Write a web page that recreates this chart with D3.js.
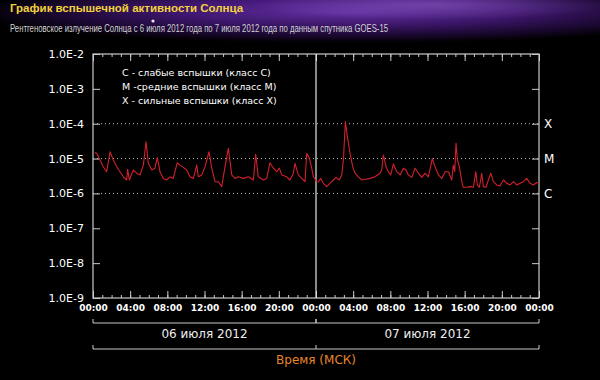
<!DOCTYPE html>
<html>
<head>
<meta charset="utf-8">
<script src="https://cdn.jsdelivr.net/npm/d3@7"></script>
<style>
    body { margin: 0; background: #000; }
    svg { display: block; }
</style>
</head>
<body>
<svg id="chart"></svg>
<script>
// GOES-15 X-ray flux, 6-7 July 2012 (hours from 00:00 on 06.07, W/m2)
const hours = [0.2, 0.4, 0.75, 1.1, 1.47, 1.83, 2.19, 2.55, 2.9, 3.26, 3.62, 3.73, 3.91, 4.34, 4.7, 5.06, 5.42, 5.71, 5.95,
    6.32, 6.67, 6.92, 7.21, 7.57, 7.93, 8.29, 8.64, 9.07, 9.36, 9.72, 10.08, 10.44, 10.8, 11.16, 11.34, 11.7, 12.06, 12.49,
    12.78, 13.13, 13.49, 13.85, 14.21, 14.57, 14.93, 15.29, 15.64, 16.18, 16.72, 17.26, 17.51, 17.79, 18.33, 18.7, 19.05,
    19.41, 19.77, 20.05, 20.31, 20.85, 21.2, 21.56, 21.74, 22.1, 22.47, 22.82, 23.0, 23.28, 23.54, 23.72, 24.08, 24.26,
    24.51, 24.79, 25.15, 25.51, 25.87, 26.16, 26.51, 26.77, 26.95, 27.16, 27.38, 27.66, 27.95, 28.2, 28.56, 28.92, 29.28,
    29.82, 30.35, 30.89, 31.07, 31.25, 31.54, 31.79, 32.04, 32.33, 32.69, 33.05, 33.4, 33.69, 33.94, 34.31, 34.66, 35.02,
    35.38, 35.74, 36.09, 36.52, 36.81, 37.17, 37.53, 37.89, 38.25, 38.61, 38.78, 38.93, 39.07, 39.22, 39.43, 39.69, 39.86,
    40.22, 40.58, 40.94, 41.2, 41.37, 41.58, 41.84, 42.01, 42.3, 42.55, 42.81, 43.09, 43.45, 43.81, 44.17, 44.53, 44.89,
    45.24, 45.61, 45.96, 46.32, 46.68, 47.04, 47.39, 47.76, 48];
const flux = [1.48e-5, 1.42e-5, 9.1e-6, 5.85e-6, 4.2e-6, 1.57e-5, 9.1e-6, 5.85e-6, 4.2e-6, 3.0e-6, 2.43e-6, 4.9e-6, 2.43e-6,
    4.7e-6, 3.8e-6, 3.4e-6, 6.5e-6, 3.05e-5, 7.3e-6, 4.7e-6, 5.3e-6, 1.06e-5, 4.2e-6, 2.7e-6, 2.43e-6, 3.0e-6, 2.7e-6,
    7.6e-6, 6.5e-6, 5.6e-6, 4.7e-6, 3.0e-6, 2.7e-6, 6.5e-6, 3.0e-6, 3.4e-6, 5.85e-6, 1.57e-5, 5.3e-6, 2.17e-6, 2.17e-6,
    1.57e-6, 5.85e-6, 1.97e-5, 3.4e-6, 2.7e-6, 3.0e-6, 2.7e-6, 3.0e-6, 2.43e-6, 1.33e-5, 3.0e-6, 2.43e-6, 2.7e-6, 7.6e-6,
    5.3e-6, 4.2e-6, 5.3e-6, 3.4e-6, 3.0e-6, 2.43e-6, 3.8e-6, 7.3e-6, 3.4e-6, 2.7e-6, 2.17e-6, 1.42e-5, 1.03e-5, 5.3e-6,
    3.0e-6, 2.17e-6, 2.17e-6, 2.7e-6, 1.95e-6, 1.57e-6, 1.95e-6, 2.43e-6, 2.9e-6, 2.43e-6, 3.4e-6, 9.1e-6, 1.15e-4,
    4.25e-5, 1.42e-5, 5.85e-6, 3.8e-6, 3.0e-6, 2.43e-6, 2.5e-6, 2.7e-6, 3.0e-6, 3.8e-6, 4.7e-6, 1.27e-5, 5.85e-6, 4.2e-6,
    3.4e-6, 7.0e-6, 4.2e-6, 3.4e-6, 5.3e-6, 4.7e-6, 3.4e-6, 2.9e-6, 5.3e-6, 3.8e-6, 2.9e-6, 3.8e-6, 3.0e-6, 1.0e-5,
    5.85e-6, 3.4e-6, 2.7e-6, 4.2e-6, 4.2e-6, 2.43e-6, 6.5e-6, 4.2e-6, 2.74e-5, 9.1e-6, 5.85e-6, 2.17e-6, 1.5e-6, 1.5e-6,
    1.57e-6, 1.5e-6, 4.2e-6, 1.75e-6, 1.5e-6, 3.8e-6, 1.57e-6, 1.5e-6, 2.43e-6, 3.8e-6, 2.17e-6, 1.75e-6, 1.65e-6,
    2.43e-6, 1.95e-6, 1.75e-6, 2.17e-6, 1.75e-6, 1.95e-6, 2.17e-6, 2.7e-6, 1.95e-6, 1.75e-6, 2.05e-6, 1.95e-6];

const yTickValues = [1e-2, 1e-3, 1e-4, 1e-5, 1e-6, 1e-7, 1e-8, 1e-9];
const yTickLabels = ['1.0E-2', '1.0E-3', '1.0E-4', '1.0E-5', '1.0E-6', '1.0E-7', '1.0E-8', '1.0E-9'];
const xTickValues = [0, 4, 8, 12, 16, 20, 24, 28, 32, 36, 40, 44, 48];
const xTickLabels = ['00:00', '04:00', '08:00', '12:00', '16:00', '20:00', '00:00', '04:00', '08:00', '12:00', '16:00', '20:00', '00:00'];
const classLabels = ['X', 'M', 'C'];
const classLevels = [1e-4, 1e-5, 1e-6];
const legendLines = ['C - слабые вспышки (класс C)', 'M -средние вспышки (класс M)', 'X - сильные вспышки (класс X)'];
const dayLabels = ['06 июля 2012', '07 июля 2012'];
const dayStarts = [0, 24];

const title = 'График вспышечной активности Солнца';
const subtitle = 'Рентгеновское излучение Солнца с 6 июля 2012 года по 7 июля 2012 года по данным спутника GOES-15';
const axisTitle = 'Время (МСК)';

const width = 600, height = 380;
const margin = { top: 54, right: 61, bottom: 82, left: 93 };
const innerW = width - margin.left - margin.right;
const innerH = height - margin.top - margin.bottom;
const frameColor = '#cacaca';
const font = 'DejaVu Sans, Verdana, sans-serif';

const svg = d3.select('#chart')
    .attr('width', width)
    .attr('height', height);

// header background (purple nebula)
const defs = svg.append('defs');
const neb = defs.append('radialGradient')
    .attr('id', 'neb1').attr('cx', 0.58).attr('cy', 0.25).attr('r', 0.62);
neb.append('stop').attr('offset', '0%').attr('stop-color', '#6b34b0');
neb.append('stop').attr('offset', '45%').attr('stop-color', '#45197a');
neb.append('stop').attr('offset', '80%').attr('stop-color', '#1c0833');
neb.append('stop').attr('offset', '100%').attr('stop-color', '#000');
const neb2 = defs.append('radialGradient')
    .attr('id', 'neb2').attr('cx', 0.72).attr('cy', 0.1).attr('r', 0.3);
neb2.append('stop').attr('offset', '0%').attr('stop-color', '#a070d8').attr('stop-opacity', 0.45);
neb2.append('stop').attr('offset', '100%').attr('stop-color', '#a070d8').attr('stop-opacity', 0);
const fade = defs.append('linearGradient')
    .attr('id', 'fade').attr('x1', 0).attr('y1', 0).attr('x2', 0).attr('y2', 1);
fade.append('stop').attr('offset', '0%').attr('stop-color', '#000').attr('stop-opacity', 0);
fade.append('stop').attr('offset', '75%').attr('stop-color', '#000').attr('stop-opacity', 0.25);
fade.append('stop').attr('offset', '100%').attr('stop-color', '#000').attr('stop-opacity', 1);

svg.append('rect').attr('width', width).attr('height', height).attr('fill', '#000');
svg.append('rect').attr('width', width).attr('height', 50).attr('fill', 'url(#neb1)');
svg.append('rect').attr('width', width).attr('height', 50).attr('fill', 'url(#neb2)');
svg.append('rect').attr('width', width).attr('height', 50).attr('fill', 'url(#fade)');
svg.append('circle').attr('cx', 153).attr('cy', 21).attr('r', 1.6).attr('fill', '#fff').attr('opacity', 0.9);

svg.append('text')
    .attr('x', 10).attr('y', 12)
    .attr('font-family', 'Liberation Sans, Arial, sans-serif')
    .attr('font-weight', 'bold')
    .attr('font-size', 11.5)
    .attr('fill', '#f2d23c')
    .text(title);

svg.append('text')
    .attr('x', 10).attr('y', 32)
    .attr('font-family', 'Liberation Sans Narrow, Liberation Sans, Arial, sans-serif')
    .attr('font-size', 10)
    .attr('textLength', 378)
    .attr('lengthAdjust', 'spacingAndGlyphs')
    .attr('fill', '#d2d2d2')
    .text(subtitle);

// scales
const x = d3.scaleLinear().domain([0, 48]).range([0, innerW]);
const y = d3.scaleLog().domain([1e-9, 1e-2]).range([innerH, 0]);

const g = svg.append('g')
    .attr('transform', `translate(${margin.left},${margin.top})`);

// dotted class levels
g.selectAll('.level')
    .data(classLevels)
    .join('line')
    .attr('class', 'level')
    .attr('x1', 0).attr('x2', innerW)
    .attr('y1', d => y(d)).attr('y2', d => y(d))
    .attr('stroke', '#bbb')
    .attr('stroke-width', 1)
    .attr('stroke-dasharray', '1,3');

// ticks
const hourTicks = d3.range(0, 49);
function styleAxis(sel) {
    sel.select('.domain').remove();
    sel.selectAll('line').attr('stroke', frameColor);
    sel.selectAll('text').attr('fill', '#fff').attr('font-family', font);
}

g.append('g').call(d3.axisBottom(x).tickValues(hourTicks).tickSize(3).tickFormat('')).call(styleAxis);
g.append('g').call(d3.axisBottom(x).tickValues(xTickValues).tickSize(7).tickFormat('')).call(styleAxis);
g.append('g').attr('transform', `translate(0,${innerH})`)
    .call(d3.axisTop(x).tickValues(hourTicks).tickSize(3).tickFormat('')).call(styleAxis);
g.append('g').attr('transform', `translate(0,${innerH})`)
    .call(d3.axisTop(x).tickValues(xTickValues).tickSize(7).tickFormat('')).call(styleAxis);

g.append('g').attr('transform', `translate(0,${innerH})`)
    .call(d3.axisBottom(x).tickValues(xTickValues).tickSize(0).tickPadding(7)
        .tickFormat((d, i) => xTickLabels[i]))
    .call(styleAxis)
    .selectAll('text')
    .attr('font-size', 9)
    .attr('font-weight', 'bold');

g.append('g').call(d3.axisRight(y).tickValues(yTickValues).tickSize(7).tickFormat('')).call(styleAxis);
g.append('g').attr('transform', `translate(${innerW},0)`)
    .call(d3.axisLeft(y).tickValues(yTickValues).tickSize(7).tickFormat('')).call(styleAxis);
g.append('g')
    .call(d3.axisLeft(y).tickValues(yTickValues).tickSize(0).tickPadding(9)
        .tickFormat((d, i) => yTickLabels[i]))
    .call(styleAxis)
    .selectAll('text')
    .attr('font-size', 11);

// right side class letters
g.append('g').attr('transform', `translate(${innerW},0)`)
    .call(d3.axisRight(y).tickValues(classLevels).tickSize(0).tickPadding(5)
        .tickFormat((d, i) => classLabels[i]))
    .call(styleAxis)
    .selectAll('text')
    .attr('font-size', 12);

// frame + day divider
g.append('rect')
    .attr('width', innerW).attr('height', innerH)
    .attr('fill', 'none')
    .attr('stroke', frameColor)
    .attr('stroke-width', 1.2);
g.append('line')
    .attr('x1', x(24)).attr('x2', x(24))
    .attr('y1', 0).attr('y2', innerH)
    .attr('stroke', '#e6e6e6')
    .attr('stroke-width', 1.2);

// flux curve
const series = hours.map((h, i) => ({ h: h, v: flux[i] }));
const line = d3.line()
    .x(d => x(d.h))
    .y(d => y(d.v));
g.append('path')
    .datum(series)
    .attr('d', line)
    .attr('fill', 'none')
    .attr('stroke', '#d3202c')
    .attr('stroke-width', 1.1)
    .attr('stroke-linejoin', 'round');

// legend
g.selectAll('.legend')
    .data(legendLines)
    .join('text')
    .attr('class', 'legend')
    .attr('x', 29)
    .attr('y', (d, i) => 22 + i * 14)
    .attr('font-family', font)
    .attr('font-size', 9.5)
    .attr('fill', '#fff')
    .text(d => d);

// day brackets under the axis
const bracket1 = innerH + 25;
const bracket2 = innerH + 51;
const days = g.selectAll('.day')
    .data(dayStarts)
    .join('g')
    .attr('class', 'day');
days.append('path')
    .attr('d', d => `M${x(d)},${bracket1 - 4}V${bracket1}H${x(d + 24)}V${bracket1 - 4}`)
    .attr('fill', 'none')
    .attr('stroke', frameColor);
days.append('text')
    .attr('x', d => x(d + 12))
    .attr('y', bracket1 + 15)
    .attr('text-anchor', 'middle')
    .attr('font-family', font)
    .attr('font-size', 12)
    .attr('fill', '#eee')
    .text((d, i) => dayLabels[i]);

g.append('path')
    .attr('d', `M${x(0)},${bracket2 - 4}V${bracket2}H${x(48)}V${bracket2 - 4}M${x(24)},${bracket2}V${bracket2 - 4}`)
    .attr('fill', 'none')
    .attr('stroke', frameColor);

g.append('text')
    .attr('x', x(24))
    .attr('y', bracket2 + 15)
    .attr('text-anchor', 'middle')
    .attr('font-family', font)
    .attr('font-size', 12)
    .attr('fill', '#e8862c')
    .text(axisTitle);
</script>
</body>
</html>
